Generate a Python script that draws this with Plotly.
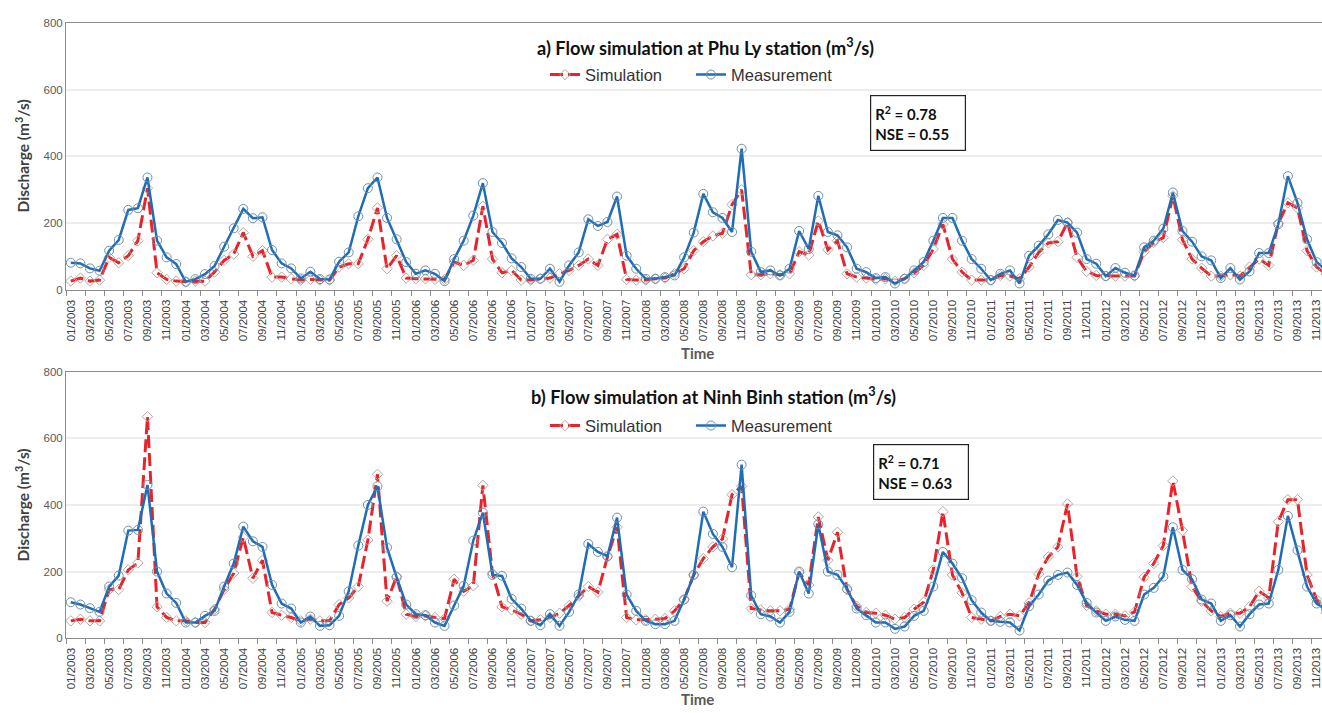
import plotly.graph_objects as go

months = [f"{m:02d}/{y}" for y in range(2003, 2014) for m in range(1, 13)]
tick_labels = months[::2]

pa_meas = [82, 80, 65, 58, 118, 150, 240, 245, 337, 148, 98, 78,
           25, 33, 48, 72, 130, 185, 243, 215, 218, 120, 80, 65,
           35, 55, 33, 32, 85, 113, 221, 305, 337, 216, 152, 84,
           49, 59, 49, 27, 93, 148, 223, 320, 174, 141, 95, 69,
           34, 34, 64, 25, 74, 113, 212, 192, 204, 280, 103, 64,
           34, 34, 39, 44, 98, 172, 288, 233, 216, 174, 423, 115,
           54, 59, 44, 64, 177, 123, 282, 174, 164, 128, 64, 54,
           36, 39, 20, 34, 59, 84, 148, 216, 216, 148, 93, 64,
           30, 49, 59, 20, 103, 133, 167, 210, 202, 172, 93, 79,
           42, 66, 52, 44, 128, 148, 184, 292, 177, 145, 101, 89,
           36, 66, 32, 56, 111, 111, 197, 341, 261, 152, 84, 60]

pa_sim = [27, 36, 27, 30, 98, 82, 103, 148, 305, 52, 32, 27,
          25, 27, 27, 54, 89, 108, 172, 101, 118, 39, 39, 34,
          30, 32, 30, 30, 69, 79, 79, 152, 246, 64, 103, 36,
          34, 34, 32, 32, 84, 74, 89, 251, 93, 52, 59, 30,
          30, 34, 36, 49, 59, 74, 93, 74, 152, 167, 32, 30,
          30, 34, 36, 49, 64, 118, 145, 162, 170, 256, 300, 46,
          46, 49, 46, 49, 115, 105, 207, 121, 148, 49, 39, 36,
          32, 34, 27, 34, 52, 74, 123, 197, 93, 54, 30, 30,
          30, 44, 42, 34, 69, 113, 141, 145, 202, 98, 56, 44,
          42, 42, 42, 42, 115, 143, 157, 282, 151, 93, 66, 42,
          42, 46, 42, 69, 93, 74, 200, 261, 246, 118, 69, 48]

pb_meas = [108, 101, 90, 79, 155, 188, 323, 325, 460, 200, 134, 106,
           47, 47, 67, 82, 155, 224, 335, 291, 274, 160, 104, 89,
           47, 65, 37, 39, 67, 141, 278, 400, 456, 272, 183, 101,
           72, 69, 47, 37, 98, 157, 293, 377, 190, 187, 118, 89,
           52, 39, 72, 37, 79, 131, 283, 259, 246, 362, 131, 82,
           52, 42, 42, 52, 116, 190, 380, 313, 274, 213, 521, 128,
           72, 65, 47, 79, 200, 134, 342, 200, 190, 148, 89, 69,
           47, 47, 28, 35, 67, 82, 155, 259, 224, 180, 114, 77,
           52, 49, 47, 23, 96, 131, 173, 190, 197, 160, 106, 77,
           52, 65, 55, 52, 131, 151, 185, 333, 205, 177, 116, 104,
           52, 69, 35, 72, 101, 104, 205, 367, 264, 155, 104, 85]

pb_sim = [52, 57, 52, 52, 146, 146, 205, 226, 665, 94, 62, 52,
          52, 47, 47, 87, 146, 195, 303, 180, 234, 77, 69, 62,
          52, 57, 52, 52, 101, 121, 155, 295, 492, 111, 185, 72,
          65, 67, 62, 59, 177, 141, 157, 459, 195, 94, 85, 72,
          52, 55, 62, 75, 98, 126, 155, 138, 244, 333, 62, 55,
          55, 57, 59, 82, 116, 190, 239, 274, 298, 431, 456, 89,
          85, 82, 82, 87, 197, 160, 364, 234, 318, 146, 96, 77,
          75, 69, 57, 62, 87, 108, 205, 380, 190, 136, 62, 57,
          52, 65, 72, 67, 106, 193, 244, 274, 403, 185, 98, 82,
          72, 72, 67, 79, 183, 224, 278, 472, 323, 155, 111, 82,
          65, 75, 75, 94, 141, 121, 350, 416, 416, 190, 116, 75]

x = list(range(len(months)))

RED = "#E8232B"
BLUE = "#1F6DB5"
SIM_MK = "#B9A79E"
MEAS_MK = "#6E8FAE"

fig = go.Figure()

def add_pair(sim, meas, xa, ya, legend):
    fig.add_trace(go.Scatter(
        x=x, y=sim, name="Simulation", mode="lines+markers",
        line=dict(color=RED, width=3, dash="13px,5px"),
        marker=dict(symbol="diamond-open", size=8, color=SIM_MK, line=dict(width=1)),
        xaxis=xa, yaxis=ya, legend=legend, customdata=months,
        hovertemplate="%{customdata}: %{y}<extra>Simulation</extra>"))
    fig.add_trace(go.Scatter(
        x=x, y=meas, name="Measurement", mode="lines+markers",
        line=dict(color=BLUE, width=2.5),
        marker=dict(symbol="circle-open", size=9, color=MEAS_MK, line=dict(width=1)),
        xaxis=xa, yaxis=ya, legend=legend, customdata=months,
        hovertemplate="%{customdata}: %{y}<extra>Measurement</extra>"))

add_pair(pa_sim, pa_meas, "x", "y", "legend")
add_pair(pb_sim, pb_meas, "x2", "y2", "legend2")

W, H = 1322, 713
L = 66

def px(xp):
    return (xp - L) / (W - L)

def py(yp):
    return 1 - yp / H

xa_common = dict(
    range=[-0.5, 130.56], tickmode="array", tickvals=x[::2], ticktext=tick_labels,
    tickangle=-90, tickfont=dict(family="Liberation Sans", size=11.5, color="#404040"),
    ticks="", ticklabelstandoff=4, ticklabeloverflow="allow",
    showline=True, linecolor="#8C8C8C", linewidth=1,
    mirror=True, showgrid=False, zeroline=False,
    minor=dict(tickvals=[v - 0.5 for v in range(0, 133, 2)], ticks="outside",
               ticklen=5, tickcolor="#8C8C8C", showgrid=False),
)
ya_common = dict(
    range=[0, 800], dtick=200, tickfont=dict(family="Liberation Sans", size=11.5, color="#595959"),
    showline=True, linecolor="#8C8C8C", linewidth=1, showgrid=True,
    gridcolor="#EDEDED", gridwidth=1.5, zeroline=False, ticks="",
)

legend_font = dict(family="Liberation Sans", size=16.5, color="#333333")
legend_common = dict(orientation="h", xanchor="left", yanchor="middle",
                     font=legend_font, bgcolor="rgba(0,0,0,0)", itemwidth=30,
                     entrywidth=101, entrywidthmode="pixels")

fig.update_layout(
    width=W, height=H, margin=dict(l=L, r=0, t=0, b=0),
    paper_bgcolor="white", plot_bgcolor="white",
    xaxis=dict(domain=[0, 1], anchor="y", **xa_common),
    yaxis=dict(domain=[py(289), py(17)], anchor="x", **ya_common),
    xaxis2=dict(domain=[0, 1], anchor="y2", **xa_common),
    yaxis2=dict(domain=[py(643), py(372)], anchor="x2", **ya_common),
    legend=dict(x=px(545), y=py(70), **legend_common),
    legend2=dict(x=px(545), y=py(427), **legend_common),
    showlegend=True,
)

title_font = dict(family="Lato", size=18.2, color="#111111")
axis_title_font = dict(family="Lato", size=15.5, color="#404040")
time_font = dict(family="Lato", size=15, color="#595959")
box_font = dict(family="Lato", size=15, color="#111111")

annotations = [
    dict(text="<b>a) Flow simulation at Phu Ly station (m<sup>3</sup>/s)</b>",
         x=px(705), y=py(41), font=title_font),
    dict(text="<b>b) Flow simulation at Ninh Binh station (m<sup>3</sup>/s)</b>",
         x=px(713), y=py(396), font=title_font),
    dict(text="<b>Discharge (m<sup>3</sup>/s)</b>", x=px(22), y=py(153),
         textangle=-90, font=axis_title_font),
    dict(text="<b>Discharge (m<sup>3</sup>/s)</b>", x=px(22), y=py(508),
         textangle=-90, font=axis_title_font),
    dict(text="<b>Time</b>", x=px(697), y=py(353), font=time_font),
    dict(text="<b>Time</b>", x=px(697), y=py(705), font=time_font),
    dict(text="<b>R<sup>2</sup> = 0.78<br>NSE = 0.55</b>", x=px(917.5), y=py(119.5),
         align="left", width=86, height=46, bordercolor="#222222", borderwidth=1.2,
         borderpad=4, bgcolor="white", font=box_font),
    dict(text="<b>R<sup>2</sup> = 0.71<br>NSE = 0.63</b>", x=px(920.5), y=py(474),
         align="left", width=86, height=46, bordercolor="#222222", borderwidth=1.2,
         borderpad=4, bgcolor="white", font=box_font),
]
for a in annotations:
    a.update(xref="paper", yref="paper", showarrow=False, xanchor="center", yanchor="middle")
fig.update_layout(annotations=annotations)

fig.write_html("out.html", config={"displayModeBar": False},
               post_script="document.body.style.margin='0';document.body.style.overflow='hidden';")
